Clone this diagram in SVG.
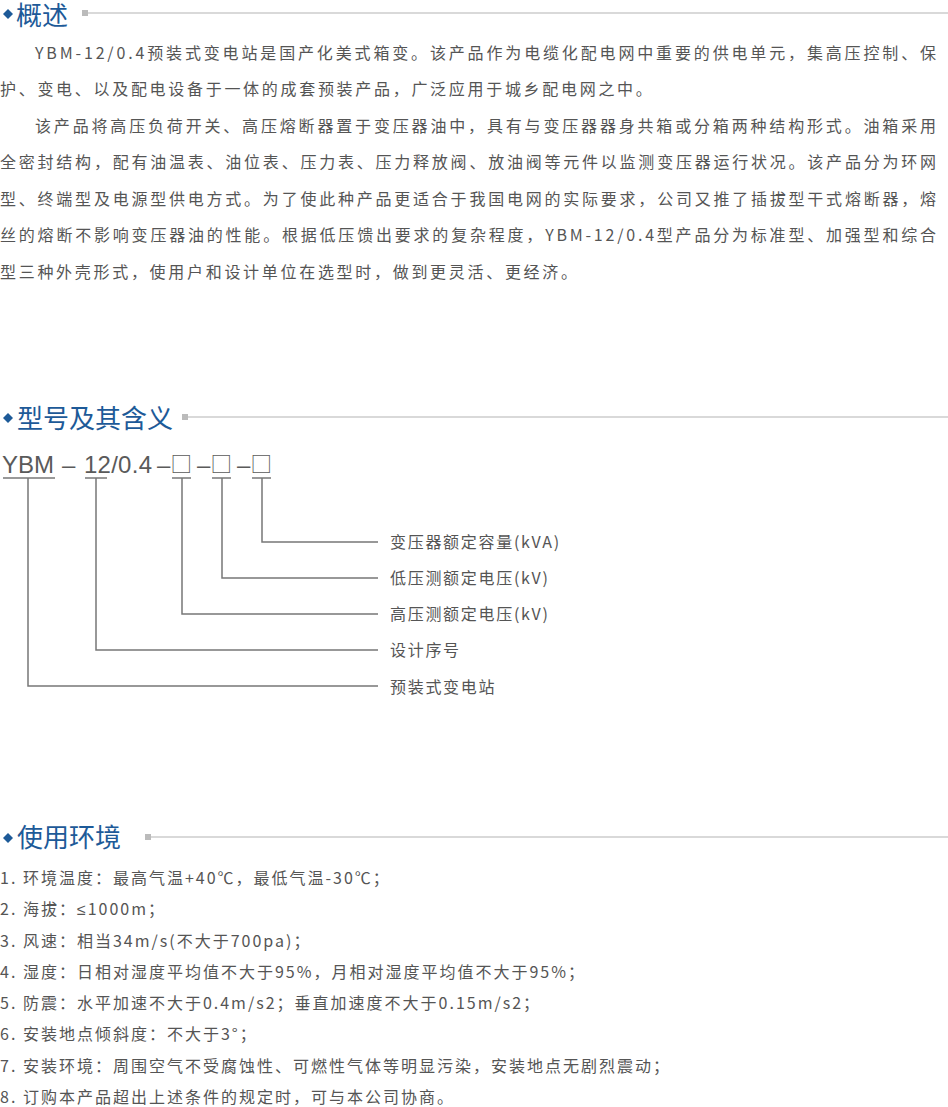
<svg xmlns="http://www.w3.org/2000/svg" width="948" height="1107" viewBox="0 0 948 1107">
<style>
.hd{font-family:"Noto Sans CJK SC","Noto Sans",sans-serif;font-size:26px;fill:#1d5a98;}
.dia{fill:#1d5a98;}
.sq{fill:#bbbbbb;}
.rule{stroke:#cccccc;stroke-width:1.5;}
.p{font-family:"Noto Sans CJK SC","Noto Sans",sans-serif;font-size:16px;fill:#555555;letter-spacing:2.7px;}
.li{font-family:"Noto Sans CJK SC","Noto Sans",sans-serif;font-size:16px;fill:#555555;letter-spacing:2px;}
.m{font-family:"Liberation Sans","Noto Sans",sans-serif;font-size:24px;fill:#5a5a5a;}
.bx{font-family:"Noto Sans CJK SC",sans-serif;font-size:21.5px;fill:#5a5a5a;}
.lb{font-family:"Noto Sans CJK SC","Noto Sans",sans-serif;font-size:16px;fill:#555555;letter-spacing:1.7px;}
.ln{stroke:#777777;stroke-width:1.5;fill:none;}
.lat{font-family:"Liberation Sans",sans-serif;}
</style>
<rect width="948" height="1107" fill="#ffffff"/>

<g id="header-overview">
<path class="dia" d="M8 9 L13 14 L8 19 L3 14 Z"/>
<text class="hd" x="16" y="25">概述</text>
<rect class="sq" x="82" y="10" width="6" height="6"/>
<line class="rule" x1="88" y1="13" x2="948" y2="13"/>
</g>

<g id="paragraphs">
<text class="p" x="35" y="59" textLength="901" lengthAdjust="spacing" style="letter-spacing:0">YBM-12/0.4预装式变电站是国产化美式箱变。该产品作为电缆化配电网中重要的供电单元，集高压控制、保</text>
<text class="p" x="0" y="95">护、变电、以及配电设备于一体的成套预装产品，广泛应用于城乡配电网之中。</text>
<text class="p" x="35" y="132" textLength="901" lengthAdjust="spacing" style="letter-spacing:0">该产品将高压负荷开关、高压熔断器置于变压器油中，具有与变压器器身共箱或分箱两种结构形式。油箱采用</text>
<text class="p" x="0" y="168" textLength="936" lengthAdjust="spacing" style="letter-spacing:0">全密封结构，配有油温表、油位表、压力表、压力释放阀、放油阀等元件以监测变压器运行状况。该产品分为环网</text>
<text class="p" x="0" y="205" textLength="936" lengthAdjust="spacing" style="letter-spacing:0">型、终端型及电源型供电方式。为了使此种产品更适合于我国电网的实际要求，公司又推了插拔型干式熔断器，熔</text>
<text class="p" x="0" y="241" textLength="936" lengthAdjust="spacing" style="letter-spacing:0">丝的熔断不影响变压器油的性能。根据低压馈出要求的复杂程度，YBM-12/0.4型产品分为标准型、加强型和综合</text>
<text class="p" x="0" y="278">型三种外壳形式，使用户和设计单位在选型时，做到更灵活、更经济。</text>
</g>

<g id="header-model">
<path class="dia" d="M8 413 L13 418 L8 423 L3 418 Z"/>
<text class="hd" x="17" y="428">型号及其含义</text>
<rect class="sq" x="182" y="414" width="6" height="6"/>
<line class="rule" x1="188" y1="417" x2="948" y2="417"/>
</g>

<g id="model-code">
<text class="m" x="2" y="473">YBM</text>
<text class="m" x="62" y="473">–</text>
<text class="m" x="84" y="473" textLength="68" lengthAdjust="spacing">12/0.4</text>
<text class="m" x="157" y="473">–</text>
<text class="bx" x="170.5" y="472">□</text>
<text class="m" x="197" y="473">–</text>
<text class="bx" x="210.5" y="472">□</text>
<text class="m" x="237" y="473">–</text>
<text class="bx" x="250.5" y="472">□</text>
</g>

<g id="connectors">
<line class="ln" x1="3" y1="478" x2="55" y2="478"/>
<line class="ln" x1="85" y1="478" x2="107" y2="478"/>
<line class="ln" x1="172" y1="478" x2="191" y2="478"/>
<line class="ln" x1="212" y1="478" x2="231" y2="478"/>
<line class="ln" x1="252" y1="478" x2="271" y2="478"/>
<polyline class="ln" points="262,478 262,542 378,542"/>
<polyline class="ln" points="222,478 222,578 378,578"/>
<polyline class="ln" points="182,478 182,614 378,614"/>
<polyline class="ln" points="96,478 96,650 378,650"/>
<polyline class="ln" points="28,478 28,686 378,686"/>
</g>

<g id="label-capacity"><text class="lb" x="390" y="548">变压器额定容量(kVA)</text></g>
<g id="label-lv"><text class="lb" x="390" y="584">低压测额定电压(kV)</text></g>
<g id="label-hv"><text class="lb" x="390" y="620">高压测额定电压(kV)</text></g>
<g id="label-design"><text class="lb" x="390" y="656">设计序号</text></g>
<g id="label-type"><text class="lb" x="390" y="693">预装式变电站</text></g>

<g id="header-env">
<path class="dia" d="M8 833 L13 838 L8 843 L3 838 Z"/>
<text class="hd" x="17" y="847">使用环境</text>
<rect class="sq" x="145" y="834" width="6" height="6"/>
<line class="rule" x1="151" y1="837" x2="948" y2="837"/>
</g>

<g id="env-list">
<text class="li" x="0" y="884">1. 环境温度：最高气温+40℃，最低气温-30℃；</text>
<text class="li" x="0" y="915">2. 海拔：<tspan class="lat">≤</tspan>1000m；</text>
<text class="li" x="0" y="947">3. 风速：相当34m/s(不大于700pa)；</text>
<text class="li" x="0" y="978">4. 湿度：日相对湿度平均值不大于95%，月相对湿度平均值不大于95%；</text>
<text class="li" x="0" y="1009">5. 防震：水平加速不大于0.4m/s2；垂直加速度不大于0.15m/s2；</text>
<text class="li" x="0" y="1040">6. 安装地点倾斜度：不大于3°；</text>
<text class="li" x="0" y="1072">7. 安装环境：周围空气不受腐蚀性、可燃性气体等明显污染，安装地点无剧烈震动；</text>
<text class="li" x="0" y="1103">8. 订购本产品超出上述条件的规定时，可与本公司协商。</text>
</g>
</svg>
